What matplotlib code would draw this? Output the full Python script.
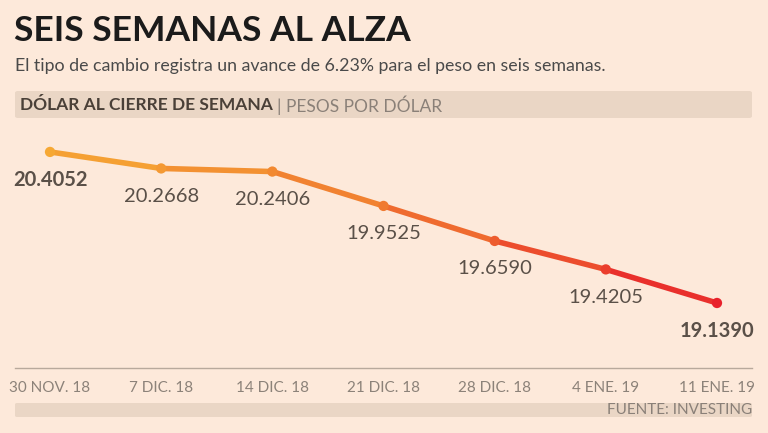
import numpy as np
import matplotlib
matplotlib.use("Agg")
import matplotlib.pyplot as plt
from matplotlib.patches import FancyBboxPatch
from matplotlib.colors import LinearSegmentedColormap

# ----- data -----
fechas = ["30 NOV. 18", "7 DIC. 18", "14 DIC. 18", "21 DIC. 18",
          "28 DIC. 18", "4 ENE. 19", "11 ENE. 19"]
tipo_cambio = [20.4052, 20.2668, 20.2406, 19.9525, 19.6590, 19.4205, 19.1390]

plt.rcParams['font.family'] = ['Lato', 'DejaVu Sans']

BG = "#fde9da"
BAND = "#ead6c5"
W, H = 768, 433

fig = plt.figure(figsize=(W / 100, H / 100), dpi=100, facecolor=BG)

def fx(px):
    return px / W

def fy(py):
    return 1 - py / H

# ----- titles -----
fig.text(fx(14), fy(31), "SEIS SEMANAS AL ALZA", fontsize=25.5, fontweight="bold",
         color="#1b1b1b", va="center", ha="left")
fig.text(fx(15), fy(66), "El tipo de cambio registra un avance de 6.23% para el peso en seis semanas.",
         fontsize=12.8, color="#4a4a4a", va="center", ha="left")

# header band
fig.patches.append(FancyBboxPatch((fx(15), fy(118)), fx(737), 27 / H,
                                  boxstyle="round,pad=0,rounding_size=0.004",
                                  transform=fig.transFigure, facecolor=BAND,
                                  edgecolor="none", zorder=0))
t1 = fig.text(fx(20), fy(105), "DÓLAR AL CIERRE DE SEMANA", fontsize=12.5,
              fontweight="bold", color="#4a4038", va="center", ha="left")
fig.canvas.draw()
bb = t1.get_window_extent(fig.canvas.get_renderer())
fig.text(bb.x1 / W + fx(4), fy(105), "| PESOS POR DÓLAR", fontsize=12.5,
         color="#8a8078", va="center", ha="left")

# bottom band
fig.patches.append(FancyBboxPatch((fx(15), fy(417)), fx(737), 14 / H,
                                  boxstyle="round,pad=0,rounding_size=0.003",
                                  transform=fig.transFigure, facecolor=BAND,
                                  edgecolor="none", zorder=0))
fig.text(fx(752), fy(410), "FUENTE: INVESTING", fontsize=11, color="#8a8078",
         va="center", ha="right")

# ----- chart -----
ax = fig.add_axes([fx(15), fy(368), fx(737), (368 - 130) / H])
ax.set_facecolor("none")
x = np.arange(len(tipo_cambio))
cmap = LinearSegmentedColormap.from_list("g", ["#f6a834", "#f07a30", "#e8212b"])
cols = [cmap(i / (len(x) - 1)) for i in range(len(x))]

for i in range(len(x) - 1):
    ax.plot(x[i:i + 2], tipo_cambio[i:i + 2], color=cmap((i + 0.5) / (len(x) - 1)),
            linewidth=4, solid_capstyle="round", zorder=2)
ax.scatter(x, tipo_cambio, s=55, c=cols, zorder=3, edgecolors="none")

for i, v in enumerate(tipo_cambio):
    bold = i in (0, len(x) - 1)
    ax.annotate(f"{v:.4f}", (x[i], v), xytext=(0, -20), textcoords="offset points",
                ha="center", va="center", fontsize=14.5,
                fontweight="bold" if bold else "normal",
                color="#5a5048")

ax.set_xlim(-0.315, 6.315)
ax.set_ylim(18.594, 20.589)
ax.set_yticks([])
ax.set_xticks(x)
ax.set_xticklabels(fechas, fontsize=11, color="#8c8279")
ax.tick_params(axis="x", length=0, pad=9)
for s in ["top", "left", "right"]:
    ax.spines[s].set_visible(False)
ax.spines["bottom"].set_color("#b8a99c")
ax.spines["bottom"].set_linewidth(1)

fig.savefig("out.png", dpi=100, facecolor=BG)
